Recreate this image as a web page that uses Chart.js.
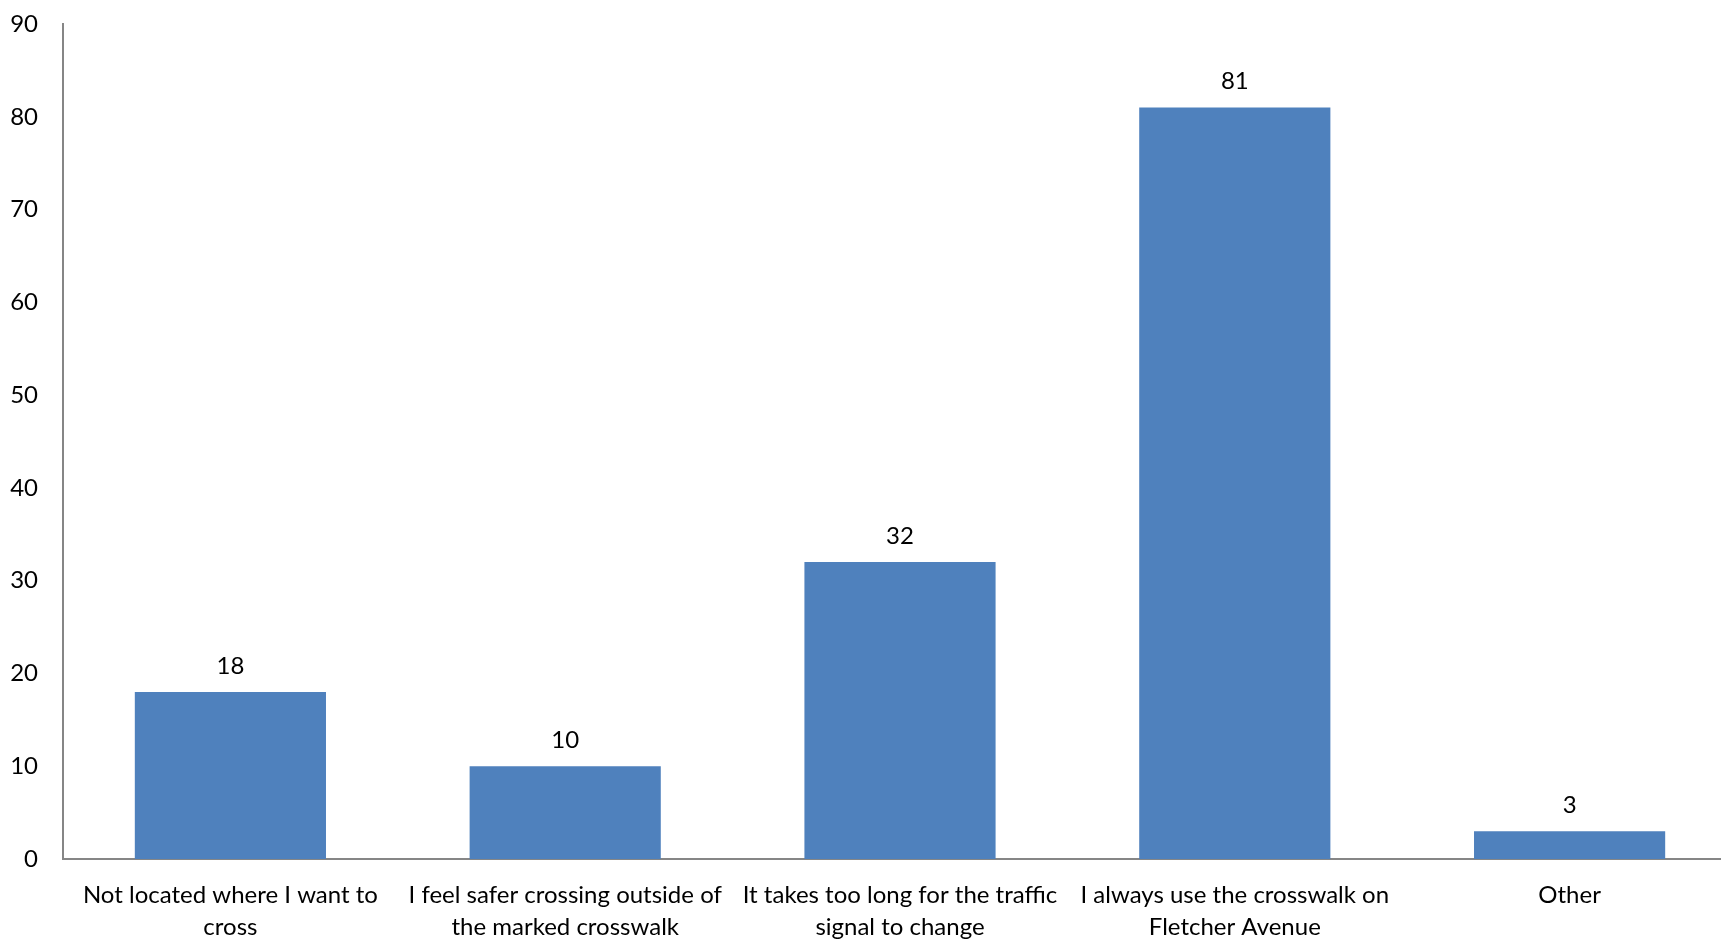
<!DOCTYPE html>
<html>
<head>
<meta charset="utf-8">
<title>Crosswalk survey</title>
<script src="https://cdn.jsdelivr.net/npm/chart.js@4.4.1/dist/chart.umd.min.js"></script>
<style>
    html, body { margin: 0; padding: 0; background: #fff; overflow: hidden; }
    #wrap { position: relative; width: 1737px; height: 940px; }
</style>
</head>
<body>
<div id="wrap"><canvas id="chart"></canvas></div>
<script>
// Survey responses: why people don't use the marked crosswalk
const categories = [
    ['Not located where I want to', 'cross'],
    ['I feel safer crossing outside of', 'the marked crosswalk'],
    ['It takes too long for the traffic', 'signal to change'],
    ['I always use the crosswalk on', 'Fletcher Avenue'],
    'Other'
];
const responses = [18, 10, 32, 81, 3];
const yTicks = [0, 10, 20, 30, 40, 50, 60, 70, 80, 90];

const FONT = 'Lato, "Open Sans", sans-serif';
const AXIS_COLOR = '#868686';

// Draws the count above each bar
const valueLabels = {
    id: 'valueLabels',
    afterDatasetsDraw(chart) {
        const ctx = chart.ctx;
        const meta = chart.getDatasetMeta(0);
        ctx.save();
        ctx.font = '24px ' + FONT;
        ctx.fillStyle = '#000';
        ctx.textAlign = 'center';
        ctx.textBaseline = 'middle';
        meta.data.forEach((bar, i) => {
            ctx.fillText(String(responses[i]), bar.x, bar.y - 26);
        });
        ctx.restore();
    }
};

new Chart(document.getElementById('chart'), {
    type: 'bar',
    data: {
        labels: categories,
        datasets: [{
            data: responses,
            backgroundColor: '#4F81BD',
            borderWidth: 0,
            barPercentage: 0.571,
            categoryPercentage: 1
        }]
    },
    options: {
        responsive: true,
        maintainAspectRatio: false,
        animation: false,
        layout: { padding: { top: 24, right: 0, bottom: 0, left: 0 } },
        plugins: {
            legend: { display: false },
            tooltip: { enabled: false }
        },
        scales: {
            x: {
                grid: { display: false, drawTicks: false },
                border: { display: true, color: AXIS_COLOR, width: 2 },
                ticks: {
                    color: '#000',
                    font: { family: FONT, size: 24, lineHeight: 1.33 },
                    padding: 20,
                    maxRotation: 0,
                    autoSkip: false
                },
                afterFit(scale) { scale.height = 81; }
            },
            y: {
                min: 0,
                max: 90,
                afterBuildTicks(scale) {
                    scale.ticks = yTicks.map(v => ({ value: v }));
                },
                grid: { display: false, drawTicks: false },
                border: { display: true, color: AXIS_COLOR, width: 2 },
                ticks: {
                    color: '#000',
                    font: { family: FONT, size: 24 },
                    padding: 25
                },
                afterFit(scale) {
                    // keep the tick padding from pushing the plot area down
                    scale.width = 63;
                    scale.paddingTop = 0;
                    scale.paddingBottom = 0;
                }
            }
        }
    },
    plugins: [valueLabels]
});
</script>
</body>
</html>
